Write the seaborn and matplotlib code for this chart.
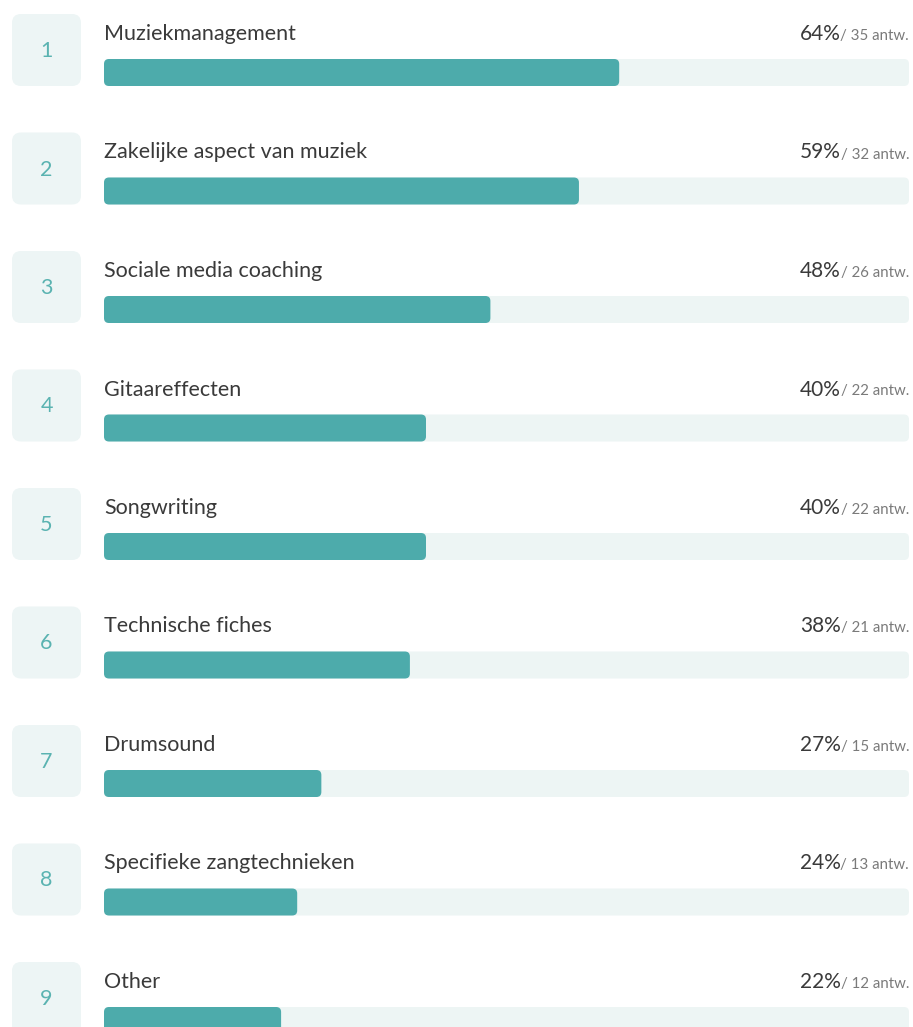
import matplotlib
matplotlib.use("Agg")
import matplotlib.pyplot as plt
import seaborn as sns
from matplotlib.patches import FancyBboxPatch

# survey answers, ranked
ranks = ["1", "2", "3", "4", "5", "6", "7", "8", "9"]
labels = ["Muziekmanagement", "Zakelijke aspect van muziek", "Sociale media coaching",
          "Gitaareffecten", "Songwriting", "Technische fiches", "Drumsound",
          "Specifieke zangtechnieken", "Other"]
pcts = [64, 59, 48, 40, 40, 38, 27, 24, 22]
counts = [35, 32, 26, 22, 22, 21, 15, 13, 12]
full = [100] * len(labels)

teal = "#4dabab"
track = "#edf5f4"
boxc = "#edf5f5"
numc = "#5ab3b1"
textc = "#3a3a3a"
greyc = "#7a7a7a"

plt.rcParams['font.family'] = ['Lato', 'DejaVu Sans']

W, H = 913, 1027
fig = plt.figure(figsize=(W / 100, H / 100), dpi=100)
ax = fig.add_axes([0, 0, 1, 1])

# pixel layout helpers (track runs from px 104 to 909, rows 118 px apart)
x0, x1 = 104, 909
ppx = (x1 - x0) / 100
row = 118.5
c0 = 72.5

def xd(p):
    return (p - x0) / ppx

def yd(p):
    return (p - c0) / row

sns.barplot(x=full, y=labels, orient="h", color=track, saturation=1, width=27 / row, ax=ax)
sns.barplot(x=pcts, y=labels, orient="h", color=teal, saturation=1, width=27 / row, ax=ax)
ax.set_xlim(xd(0), xd(W))
ax.set_ylim(yd(H), yd(0))
ax.axis("off")

# round the bar corners
asp = ppx / row
for p in list(ax.patches):
    x, y, w, h = p.get_x(), p.get_y(), p.get_width(), p.get_height()
    fc = p.get_facecolor()
    p.remove()
    ax.add_patch(FancyBboxPatch((x, y), w, h, boxstyle=f"round,pad=0,rounding_size={5 / ppx}",
                                mutation_aspect=asp, fc=fc, ec="none", zorder=2 if fc[0] < 0.5 else 1))

# number boxes + texts
for i, (r, lab) in enumerate(zip(ranks, labels)):
    ax.add_patch(FancyBboxPatch((xd(12), i + yd(14)), 69 / ppx, 72 / row,
                                boxstyle=f"round,pad=0,rounding_size={9 / ppx}",
                                mutation_aspect=asp, fc=boxc, ec="none"))
    ax.text(xd(46.5), i + yd(51), r, ha="center", va="center", fontsize=15.5, color=numc)
    ax.text(0, i + yd(40), lab, ha="left", va="baseline", fontsize=15.5, color=textc)

fig.canvas.draw()
for i, (p, c) in enumerate(zip(pcts, counts)):
    small = ax.text(xd(x1), i + yd(40), f"/ {c} antw.", ha="right", va="baseline",
                    fontsize=10.8, color=greyc)
    bb = small.get_window_extent(renderer=fig.canvas.get_renderer())
    ax.annotate(f"{p}%", xy=(xd(x1), i + yd(40)), xytext=(-bb.width * 72 / 100, 0),
                textcoords="offset points", ha="right", va="baseline",
                fontsize=15, color=textc)

fig.savefig("out.png", dpi=100)
